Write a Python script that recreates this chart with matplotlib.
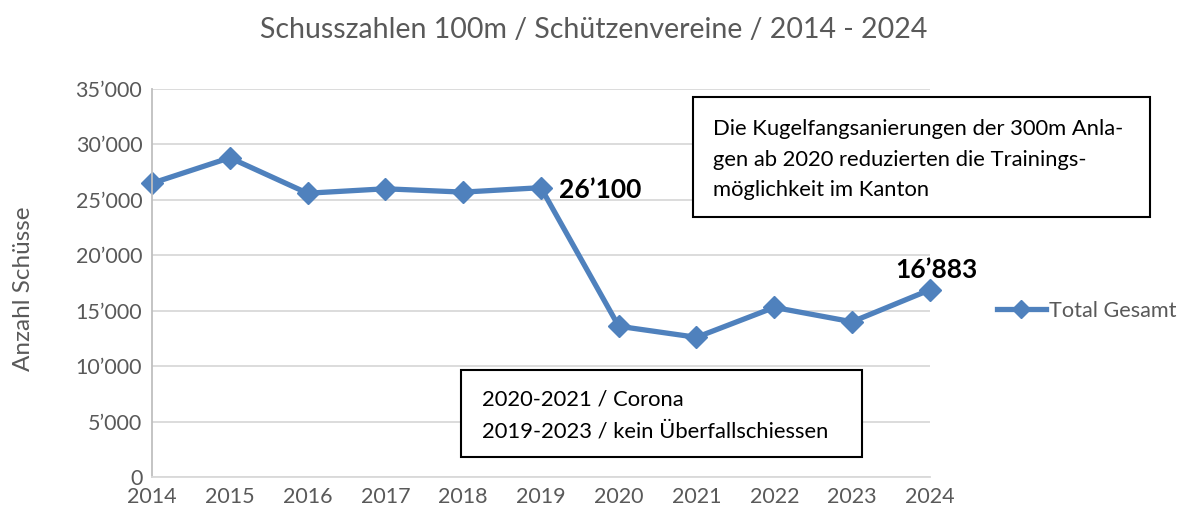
import matplotlib.pyplot as plt
from matplotlib.patches import Rectangle
from matplotlib.ticker import FuncFormatter
from matplotlib.lines import Line2D

# data
years = [2014, 2015, 2016, 2017, 2018, 2019, 2020, 2021, 2022, 2023, 2024]
shots = [26500, 28800, 25600, 26000, 25700, 26100, 13600, 12600, 15300, 14000, 16883]
series_name = "Total Gesamt"
title = "Schusszahlen 100m / Schützenvereine / 2014 - 2024"
note1 = ["Die Kugelfangsanierungen der 300m Anla-",
         "gen ab 2020 reduzierten die Trainings-",
         "möglichkeit im Kanton"]
note2 = ["2020-2021 / Corona", "2019-2023 / kein Überfallschiessen"]

plt.rcParams['font.family'] = ['Lato', 'DejaVu Sans']
blue = '#4F81BD'
grey = '#595959'

def sep(v, pos=None):
    return f"{int(v):,}".replace(",", "\u2019")

fig = plt.figure(figsize=(11.8, 5.14), dpi=100)
ax = fig.add_axes([0.1288, 0.072, 0.788 - 0.1288, 0.8268 - 0.072])

ax.plot(years, shots, color=blue, lw=3.8, marker='D', ms=11.5, label=series_name)
ax.set_xlim(years[0], years[-1])
ax.set_ylim(0, 35000)
ax.set_yticks(range(0, 35001, 5000))
ax.yaxis.set_major_formatter(FuncFormatter(sep))
ax.set_xticks(years)
ax.grid(axis='y', color='#d9d9d9', lw=1.3)
ax.set_axisbelow(True)
for s in ['top', 'right']:
    ax.spines[s].set_visible(False)
ax.spines['left'].set_color('#bfbfbf')
ax.spines['bottom'].set_color('#d9d9d9')
ax.spines['left'].set_linewidth(1.3)
ax.spines['bottom'].set_linewidth(1.3)
ax.tick_params(length=0, labelsize=15.5, labelcolor=grey, pad=7)
ax.set_ylabel("Anzahl Schüsse", fontsize=17.5, color=grey)
ax.yaxis.set_label_coords(-0.152, 0.485)
for l in ax.lines:
    l.set_clip_on(False)

# data labels
ax.annotate(sep(shots[5]), (years[5], shots[5]), xytext=(13, -2), textcoords='offset points',
            fontsize=19, fontweight='bold', va='center', ha='left')
ax.annotate(sep(shots[-1]), (years[-1], shots[-1]), xytext=(5, 14), textcoords='offset points',
            fontsize=19, fontweight='bold', va='center', ha='center')

fig.text(0.503, 1 - 30 / 514, title, ha='center', fontsize=20.5, color=grey, va='center')

# legend
h = Line2D([], [], color=blue, lw=3.8, marker='D', ms=9)
fig.legend([h], [series_name], loc='center left', bbox_to_anchor=(0.828, 1 - 311 / 514),
           frameon=False, fontsize=15.6, labelcolor=grey, handlelength=2.3, handletextpad=0.1)

# note boxes (figure pixel coords -> fraction)
def box(x0, y0, x1, y1, lines, tx, ty, dy):
    W, H = 1180, 514
    fig.patches.append(Rectangle((x0 / W, 1 - y1 / H), (x1 - x0) / W, (y1 - y0) / H,
                                 transform=fig.transFigure, fill=True, facecolor='white',
                                 edgecolor='black', lw=1.5, zorder=5))
    for i, t in enumerate(lines):
        fig.text(tx / W, 1 - (ty + i * dy) / H, t, fontsize=15.8, va='center', ha='left', zorder=6)

box(693, 97, 1150, 217, note1, 713, 129, 30.5)
box(461, 370, 862, 457, note2, 482, 400, 32)

fig.savefig("out.png", dpi=100)
